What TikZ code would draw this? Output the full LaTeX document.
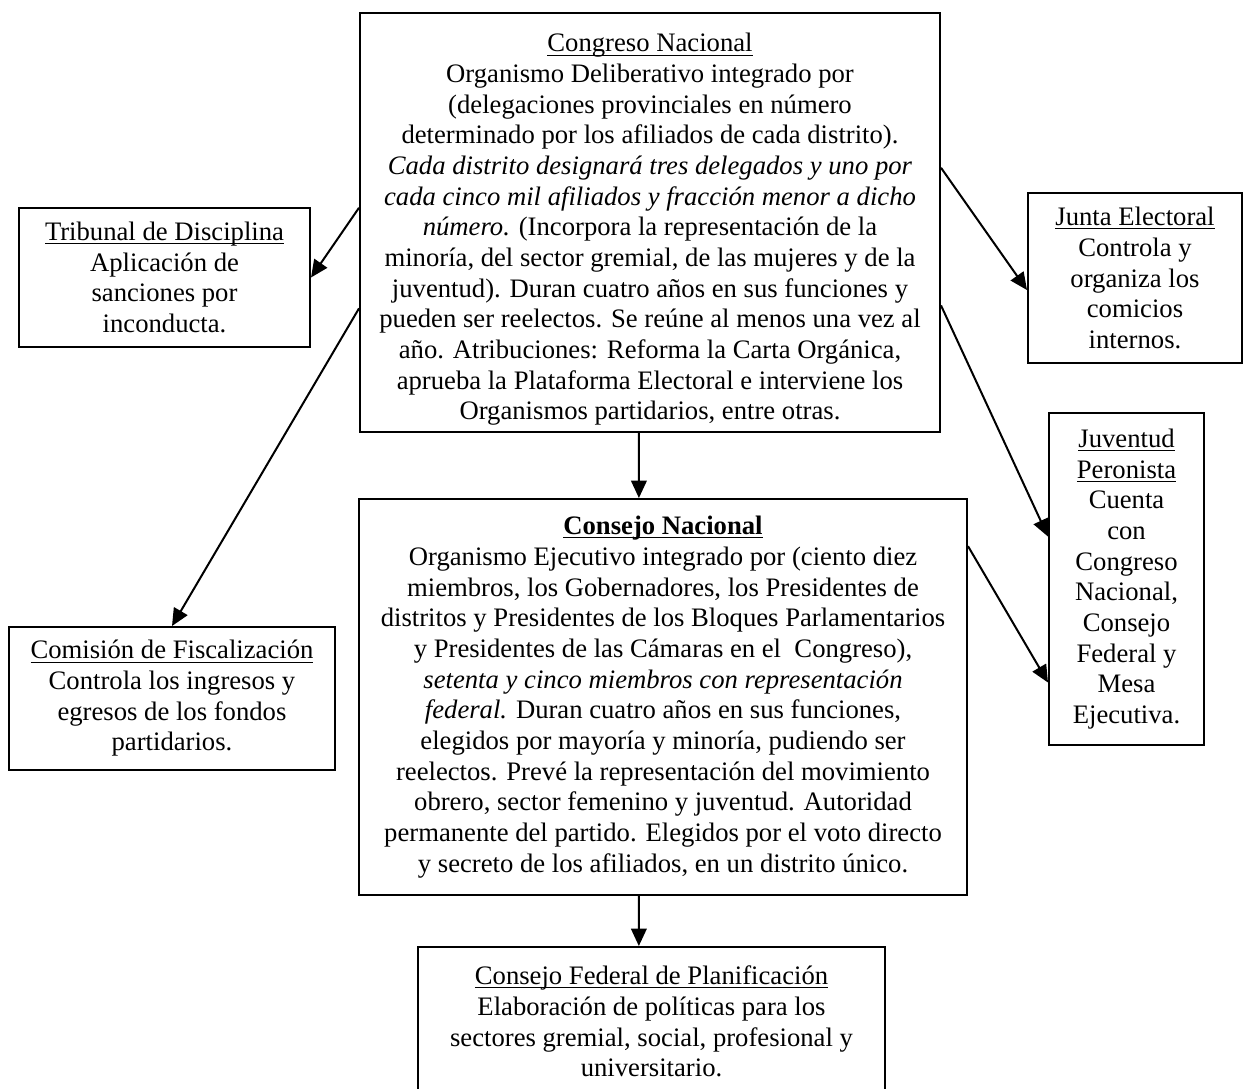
\documentclass[tikz,border=0pt]{standalone}
\usepackage{fontspec}
\setmainfont{Liberation Serif}
\usetikzlibrary{arrows.meta,calc}
% underline sitting just under the baseline, crossing descenders,
% while the line keeps its natural depth
\newcommand\headul[1]{\underline{\smash{#1}}\vphantom{#1}}
\begin{document}
\begin{tikzpicture}[x=0.45pt,y=-0.45pt,
  box/.style={draw,line width=0.9pt,align=center,inner sep=0pt,
    font=\fontsize{12}{13.8}\selectfont},
  link/.style={line width=0.9pt,-{Triangle[length=7.8pt,width=7pt]}}]
\useasboundingbox (0,0) rectangle (1244,1088);

% Congreso Nacional
\node[box,minimum width=261pt,minimum height=188.55pt] (cong) at (650,222.5) {%
\rule{0pt}{14.6pt}\headul{Congreso Nacional}\\
Organismo Deliberativo integrado por\\
(delegaciones provinciales en número\\
determinado por los afiliados de cada distrito).\\
\textit{Cada distrito designará tres delegados y uno por}\\
\textit{cada cinco mil afiliados y fracción menor a dicho}\\
\textit{número.} (Incorpora la representación de la\\
minoría, del sector gremial, de las mujeres y de la\\
juventud). Duran cuatro años en sus funciones y\\
pueden ser reelectos. Se reúne al menos una vez al\\
año. Atribuciones: Reforma la Carta Orgánica,\\
aprueba la Plataforma Electoral e interviene los\\
Organismos partidarios, entre otras.};

% Tribunal de Disciplina
\node[box,minimum width=130.95pt,minimum height=62.55pt] (trib) at (164.5,277.5) {%
\headul{Tribunal de Disciplina}\\
Aplicación de\\
sanciones por\\
inconducta.};

% Junta Electoral
\node[box,minimum width=96.3pt,minimum height=76.5pt] (junta) at (1135,278) {%
\headul{Junta Electoral}\\
Controla y\\
organiza los\\
comicios\\
internos.};

% Juventud Peronista
\node[box,minimum width=69.75pt,minimum height=149.4pt] (juv) at (1126.5,579) {%
\headul{Juventud}\\
\headul{Peronista}\\
Cuenta\\
con\\
Congreso\\
Nacional,\\
Consejo\\
Federal y\\
Mesa\\
Ejecutiva.};

% Consejo Nacional
\node[box,minimum width=273.6pt,minimum height=178.2pt] (cons) at (663,697) {%
\headul{\textbf{Consejo Nacional}}\\
Organismo Ejecutivo integrado por (ciento diez\\
miembros, los Gobernadores, los Presidentes de\\
distritos y Presidentes de los Bloques Parlamentarios\\
y Presidentes de las Cámaras en el~ Congreso),\\
\textit{setenta y cinco miembros con representación}\\
\textit{federal.} Duran cuatro años en sus funciones,\\
elegidos por mayoría y minoría, pudiendo ser\\
reelectos. Prevé la representación del movimiento\\
obrero, sector femenino y juventud. Autoridad\\
permanente del partido. Elegidos por el voto directo\\
y secreto de los afiliados, en un distrito único.};

% Comision de Fiscalizacion
\node[box,minimum width=146.7pt,minimum height=64.35pt] (com) at (172,698.5) {%
\headul{Comisión de Fiscalización}\\
Controla los ingresos y\\
egresos de los fondos\\
partidarios.};

% Consejo Federal de Planificacion
\node[box,minimum width=210.15pt,minimum height=67.05pt] (cf) at (651.5,1021.5) {%
\headul{Consejo Federal de Planificación}\\
Elaboración de políticas para los\\
sectores gremial, social, profesional y\\
universitario.};

% connectors
\draw[link] ($(cong.north west)!0.465!(cong.south west)$) -- (trib.east);
\draw[link] ($(cong.north west)!0.704!(cong.south west)$) -- (com.north);
\draw[link] ($(cong.north east)!0.370!(cong.south east)$) -- ($(junta.north west)!0.57!(junta.south west)$);
\draw[link] ($(cong.north east)!0.697!(cong.south east)$) -- ($(juv.north west)!0.373!(juv.south west)$);
\draw[link] ($(cons.north east)!0.121!(cons.south east)$) -- ($(juv.north west)!0.81!(juv.south west)$);
\draw[link] ($(cong.south west)!0.481!(cong.south east)$) -- ($(cons.north west)!0.4605!(cons.north east)$);
\draw[link] ($(cons.south west)!0.4605!(cons.south east)$) -- ($(cf.north west)!0.473!(cf.north east)$);
\end{tikzpicture}
\end{document}
